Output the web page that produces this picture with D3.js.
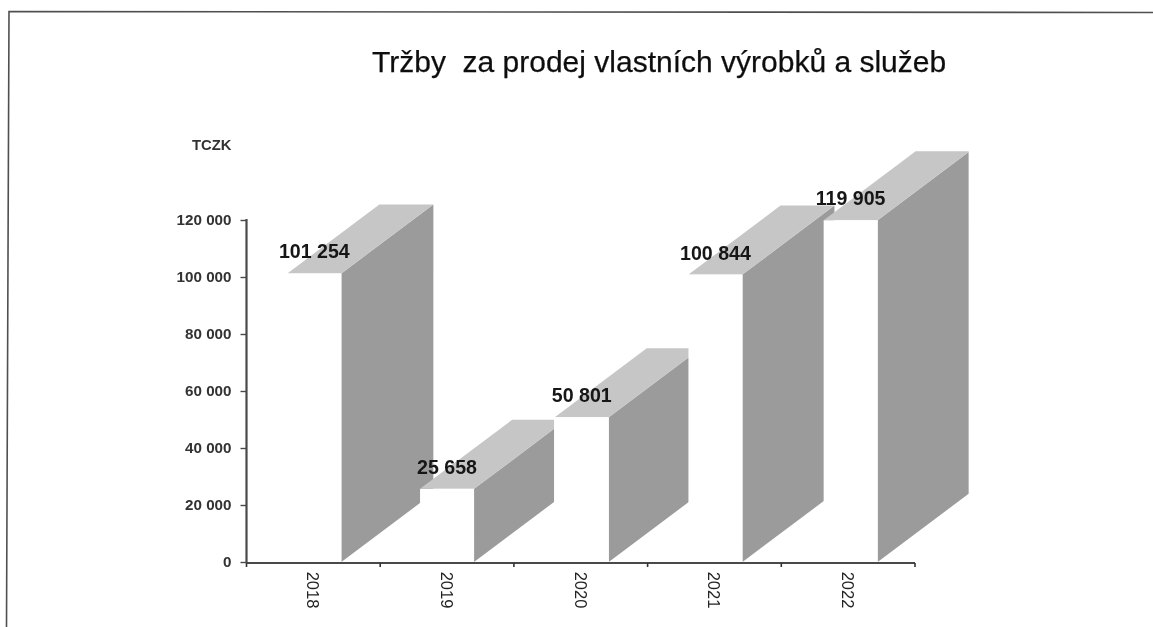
<!DOCTYPE html>
<html>
<head>
<meta charset="UTF-8">
<title>Tržby</title>
<style>
html, body { margin: 0; padding: 0; background: #fff; }
svg { display: block; }
</style>
</head>
<body>
<div id="chart"></div>
<script src="https://d3js.org/d3.v7.min.js"></script>
<script>
// data
var years = ["2018", "2019", "2020", "2021", "2022"];
var sales = [101254, 25658, 50801, 100844, 119905];
var valueLabels = ["101 254", "25 658", "50 801", "100 844", "119 905"];
var yTicks = [0, 20000, 40000, 60000, 80000, 100000, 120000];
var yTickLabels = ["0", "20 000", "40 000", "60 000", "80 000", "100 000", "120 000"];
var titleText = "Tržby  za prodej vlastních výrobků a služeb";
var unitText = "TCZK";

var width = 1153, height = 627;
var axisColor = "#4a4a4a", sideColor = "#9b9b9b", topColor = "#c6c6c6";

var svg = d3.select("#chart").append("svg")
	.attr("width", width)
	.attr("height", height);

// soft scan look
svg.append("defs").append("filter").attr("id", "scan")
	.append("feGaussianBlur").attr("stdDeviation", 0.35);

var root = svg.append("g").attr("filter", "url(#scan)");

// page frame, slightly skewed like the scan
root.append("path")
	.attr("d", "M6.5,627L9,11.5L1153,12.5")
	.attr("fill", "none")
	.attr("stroke", "#505050")
	.attr("stroke-width", 1.6);

// scales
var x = d3.scaleBand().domain(years).range([246.5, 915]);
var y = d3.scaleLinear().domain([0, 120000]).range([562, 220]);

// 3D box settings; the right part of some boxes is cut off in the original
var barW = 54, depthX = 92, depthY = 69;
var cutX = [92, 80, 81, 92, 91];
var nudge = [0, -1, 0, 0, 1.5];

var bars = root.selectAll("g.bar")
	.data(years)
	.join("g")
	.attr("class", "bar");

bars.each(function(d, i) {
	var g = d3.select(this);
	var right = x(d) + x.bandwidth() / 2 + barW / 2 + 1 + nudge[i];
	var left = right - barW;
	var top = y(sales[i]);
	var base = y(0);
	var cut = cutX[i];
	var drop = cut * depthY / depthX;

	g.append("polygon")
		.attr("fill", sideColor)
		.attr("points", [[right, top], [right + cut, top - drop], [right + cut, base - drop], [right, base]].join(" "));
	g.append("polygon")
		.attr("fill", topColor)
		.attr("points", [[left, top], [left + depthX, top - depthY], [right + cut, top - depthY], [right + cut, top - drop], [right, top]].join(" "));
	g.append("rect")
		.attr("x", left)
		.attr("y", top)
		.attr("width", barW)
		.attr("height", base - top + 1)
		.attr("fill", "#fff");
});

// value labels
root.selectAll("text.value")
	.data(years)
	.join("text")
	.attr("class", "value")
	.attr("x", function(d, i) { return x(d) + x.bandwidth() / 2 + 1 + nudge[i]; })
	.attr("y", function(d, i) { return y(sales[i]) - 15; })
	.attr("text-anchor", "middle")
	.attr("font-family", "'Liberation Sans', Arial, sans-serif")
	.attr("font-weight", "bold")
	.attr("font-size", 19.6)
	.attr("fill", "#151515")
	.text(function(d, i) { return valueLabels[i]; });

// y axis
var yAxis = d3.axisLeft(y)
	.tickValues(yTicks)
	.tickSize(6)
	.tickPadding(9)
	.tickFormat(function(d, i) { return yTickLabels[i]; });

var yG = root.append("g")
	.attr("transform", "translate(246.5,0)")
	.call(yAxis);
yG.select(".domain").attr("d", "M0,219V563").attr("stroke", axisColor).attr("stroke-width", 2.2);
yG.selectAll(".tick line").attr("stroke", axisColor).attr("stroke-width", 1.4);
yG.selectAll(".tick text")
	.attr("font-family", "'Liberation Sans', Arial, sans-serif")
	.attr("font-weight", "bold")
	.attr("font-size", 15.2)
	.attr("fill", "#333");

// x axis
var xAxis = d3.axisBottom(x).tickSize(0).tickPadding(0);
var xG = root.append("g")
	.attr("transform", "translate(0,563)")
	.call(xAxis);
xG.select(".domain").attr("d", "M246.5,0H915").attr("stroke", axisColor).attr("stroke-width", 2.2);
xG.selectAll(".tick text")
	.attr("font-family", "'Liberation Sans', Arial, sans-serif")
	.attr("font-size", 16.5)
	.attr("fill", "#222")
	.attr("text-anchor", "middle")
	.attr("dy", null)
	.attr("y", 0)
	.attr("dominant-baseline", "central")
	.attr("transform", "translate(0,27) rotate(90)");

// boundary ticks between the categories
xG.selectAll("line.boundary")
	.data(years.concat("end"))
	.join("line")
	.attr("class", "boundary")
	.attr("x1", function(d, i) { return x.range()[0] + i * x.step(); })
	.attr("x2", function(d, i) { return x.range()[0] + i * x.step(); })
	.attr("y1", 0)
	.attr("y2", 4)
	.attr("stroke", "#333")
	.attr("stroke-width", 1.6);

// title and unit
root.append("text")
	.attr("x", 372)
	.attr("y", 72)
	.attr("xml:space", "preserve")
	.style("white-space", "pre")
	.attr("font-family", "'Liberation Sans', Arial, sans-serif")
	.attr("font-size", 30)
	.attr("fill", "#111")
	.attr("stroke", "#111")
	.attr("stroke-width", 0.25)
	.text(titleText);

root.append("text")
	.attr("x", 192)
	.attr("y", 150)
	.attr("font-family", "'Liberation Sans', Arial, sans-serif")
	.attr("font-weight", "bold")
	.attr("font-size", 14.8)
	.attr("fill", "#333")
	.text(unitText);
</script>
</body>
</html>
